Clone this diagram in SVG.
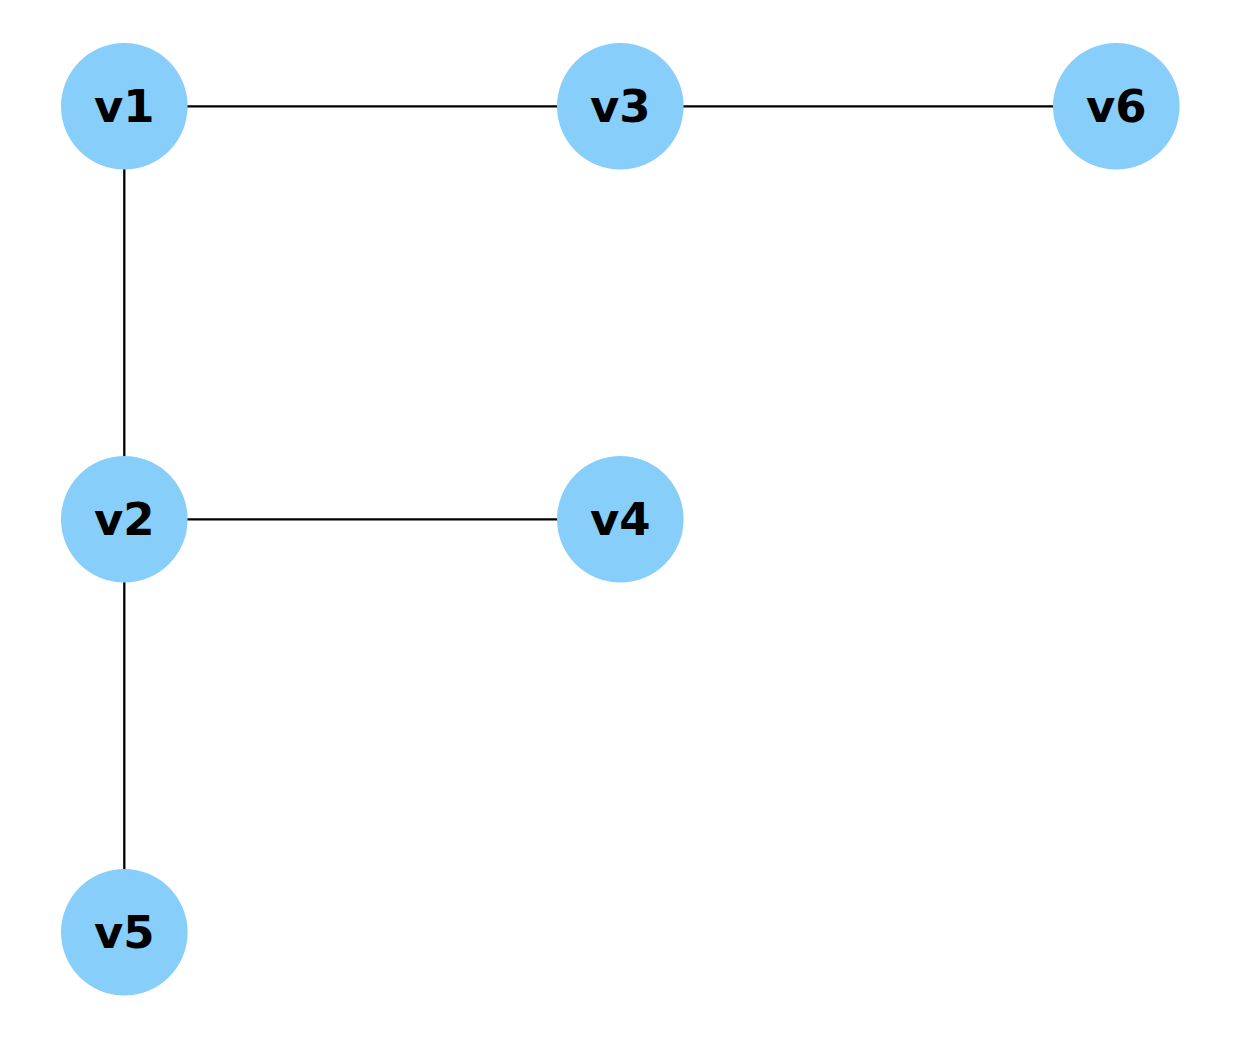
<svg xmlns="http://www.w3.org/2000/svg" width="1239" height="1039" viewBox="0 0 1239 1039">
<style>
.edge{stroke:#000;stroke-width:2.3;fill:none}
.node circle{fill:#87CEFA}
.node text{font-family:"DejaVu Sans",sans-serif;font-weight:bold;font-size:45px;fill:#000;text-anchor:middle}
</style>
<rect width="1239" height="1039" fill="#fff"/>
<g id="edges">
<line class="edge" x1="124.3" y1="106.3" x2="620.3" y2="106.3"/>
<line class="edge" x1="620.3" y1="106.3" x2="1116.3" y2="106.3"/>
<line class="edge" x1="124.3" y1="106.3" x2="124.3" y2="519.3"/>
<line class="edge" x1="124.3" y1="519.3" x2="620.3" y2="519.3"/>
<line class="edge" x1="124.3" y1="519.3" x2="124.3" y2="932.3"/>
</g>
<g id="v1" class="node"><circle cx="124.3" cy="106.3" r="63.3"/><text x="124.3" y="121.5">v1</text></g>
<g id="v3" class="node"><circle cx="620.3" cy="106.3" r="63.3"/><text x="620.3" y="121.5">v3</text></g>
<g id="v6" class="node"><circle cx="1116.3" cy="106.3" r="63.3"/><text x="1116.3" y="121.5">v6</text></g>
<g id="v2" class="node"><circle cx="124.3" cy="519.3" r="63.3"/><text x="124.3" y="534.5">v2</text></g>
<g id="v4" class="node"><circle cx="620.3" cy="519.3" r="63.3"/><text x="620.3" y="534.5">v4</text></g>
<g id="v5" class="node"><circle cx="124.3" cy="932.3" r="63.3"/><text x="124.3" y="947.5">v5</text></g>
</svg>
